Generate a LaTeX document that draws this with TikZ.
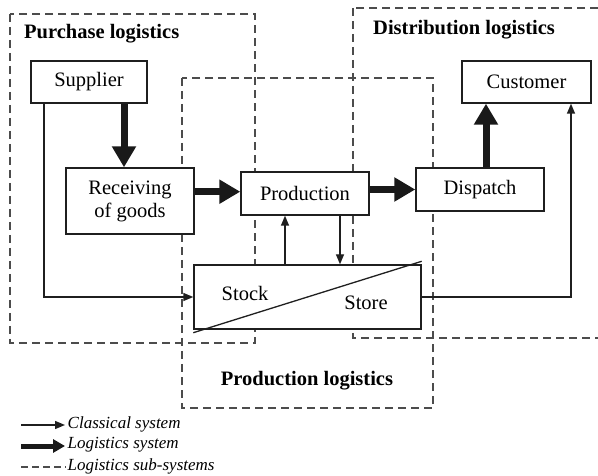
\documentclass[tikz,border=0pt]{standalone}
\usepackage{fontspec}
\setmainfont{Liberation Serif}
\usetikzlibrary{arrows.meta}
\begin{document}
\begin{tikzpicture}[x=1pt,y=-1pt,
  box/.style={draw=black!88,line width=1.4pt,fill=white,inner sep=0pt,font=\fontsize{20.5}{23}\selectfont,align=center},
  sub/.style={draw=black!70,line width=1.3pt,dash pattern=on 8pt off 5pt},
  thin arrow/.style={draw=black!88,line width=1.4pt,-{Triangle[length=10pt,width=8pt]}},
  thinline/.style={draw=black!88,line width=1.3pt},
  thick arrow/.style={draw=black!90,line width=7pt,-{Triangle[length=21pt,width=23pt]}},
  title/.style={font=\fontsize{20.5}{23}\selectfont\bfseries,inner sep=0pt},
  legend/.style={font=\fontsize{17}{20}\selectfont\itshape,inner sep=0pt,anchor=west}]
\clip (0,0) rectangle (598,476);
\fill[white] (0,0) rectangle (598,476);
% sub-systems
\draw[sub] (10,14) rectangle (255,343);
\draw[sub] (182,78) rectangle (433,408);
\draw[sub] (353,8) rectangle (620,338);
\node[title,anchor=west] (tpur) at (24,34) {Purchase logistics};
\node[title,anchor=west] (tdis) at (373,30) {Distribution logistics};
\node[title] (tpro) at (307,381) {Production logistics};
% boxes
\node[box,minimum width=116pt,minimum height=42pt] (sup) at (89,82) {Supplier};
\node[box,minimum width=128pt,minimum height=66pt] (rec) at (130,201) {Receiving\\of goods};
\node[box,minimum width=128pt,minimum height=43pt] (pro) at (305,193.5) {Production};
\node[box,minimum width=128pt,minimum height=43pt] (dis) at (480,189.5) {Dispatch};
\node[box,minimum width=129pt,minimum height=42pt] (cus) at (526.5,82) {Customer};
\node[box,minimum width=227pt,minimum height=64pt] (sto) at (307.5,297) {};
\draw[thinline] ([yshift=-3pt]sto.south west) -- ([yshift=3pt]sto.north east);
\node[font=\fontsize{20.5}{23}\selectfont,inner sep=0pt] (stock) at (245,293) {Stock};
\node[font=\fontsize{20.5}{23}\selectfont,inner sep=0pt] (store) at (366,303) {Store};
% thick arrows
\draw[thick arrow] ([xshift=-6pt]rec.north |- sup.south) -- ([xshift=-6pt]rec.north);
\draw[thick arrow] ([yshift=1.8pt]rec.east |- pro.west) -- ([yshift=1.8pt]pro.west);
\draw[thick arrow] (pro.east |- dis.west) -- (dis.west);
\draw[thick arrow] ([xshift=6pt]dis.north) -- ([xshift=6pt]dis.north |- cus.south);
% thin arrows
\draw[thin arrow] ([xshift=-45pt]sup.south) |- (sto.west);
\draw[thin arrow] (sto.east) -| ([xshift=44.5pt]cus.south);
\draw[thin arrow] ([xshift=-22.5pt]sto.north) -- ([xshift=-20pt]pro.south);
\draw[thin arrow] ([xshift=35pt]pro.south) -- ([xshift=32.5pt]sto.north);
% legend
\coordinate (l1a) at (21,425); \coordinate (l1b) at (65,425);
\coordinate (l2a) at (21,446); \coordinate (l2b) at (65,446);
\coordinate (l3a) at (21,467); \coordinate (l3b) at (66,467);
\draw[thin arrow] (l1a) -- (l1b);
\draw[draw=black!90,line width=5pt,-{Triangle[length=12pt,width=13pt]}] (l2a) -- (l2b);
\draw[sub,dash pattern=on 7pt off 4pt] (l3a) -- (l3b);
\node[legend] (lg1) at (67.5,424) {Classical system};
\node[legend] (lg2) at (67.5,445) {Logistics system};
\node[legend] (lg3) at (67.5,466) {Logistics sub-systems};
\end{tikzpicture}
\end{document}
